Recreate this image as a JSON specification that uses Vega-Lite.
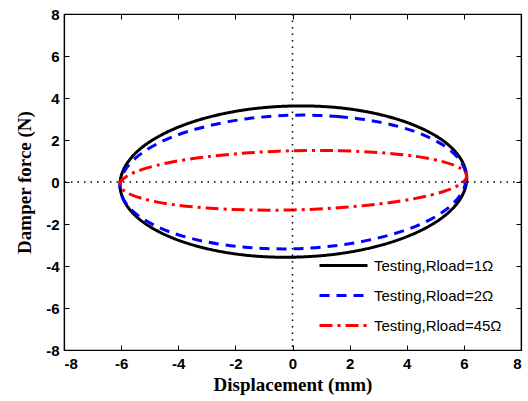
{
  "$schema": "https://vega.github.io/schema/vega-lite/v6.json",
  "width": 457,
  "height": 336,
  "autosize": {"type": "none"},
  "padding": {"left": 64, "top": 14, "right": 7, "bottom": 51},
  "background": "white",
  "config": {
    "view": {"stroke": "black", "strokeWidth": 1.2},
    "axis": {
      "domainColor": "black", "domainWidth": 1.2, "tickColor": "black", "tickSize": -5, "tickWidth": 1,
      "labelFont": "Liberation Sans", "labelFontWeight": "bold", "labelFontSize": 15, "labelColor": "black",
      "titleFont": "Liberation Serif", "titleFontWeight": "bold", "titleFontSize": 19, "titleColor": "black",
      "grid": false
    },
    "legend": {
      "labelFont": "Liberation Sans", "labelFontSize": 15, "labelColor": "black",
      "symbolType": "M-1.2,0H1.2", "symbolSize": 1600, "symbolStrokeWidth": 3, "labelOffset": 9,
      "rowPadding": 0
    }
  },
  "data": {"values": [
    {"s": "Testing,Rload=1Ω", "i": 0, "x": 0.03, "y": 3.62},
    {"s": "Testing,Rload=1Ω", "i": 1, "x": 1.60, "y": 3.54},
    {"s": "Testing,Rload=1Ω", "i": 2, "x": 3.07, "y": 3.21},
    {"s": "Testing,Rload=1Ω", "i": 3, "x": 4.32, "y": 2.67},
    {"s": "Testing,Rload=1Ω", "i": 4, "x": 5.29, "y": 1.95},
    {"s": "Testing,Rload=1Ω", "i": 5, "x": 5.89, "y": 1.10},
    {"s": "Testing,Rload=1Ω", "i": 6, "x": 6.10, "y": 0.17},
    {"s": "Testing,Rload=1Ω", "i": 7, "x": 5.89, "y": -0.77},
    {"s": "Testing,Rload=1Ω", "i": 8, "x": 5.29, "y": -1.65},
    {"s": "Testing,Rload=1Ω", "i": 9, "x": 4.32, "y": -2.42},
    {"s": "Testing,Rload=1Ω", "i": 10, "x": 3.07, "y": -3.02},
    {"s": "Testing,Rload=1Ω", "i": 11, "x": 1.60, "y": -3.42},
    {"s": "Testing,Rload=1Ω", "i": 12, "x": 0.03, "y": -3.58},
    {"s": "Testing,Rload=1Ω", "i": 13, "x": -1.54, "y": -3.50},
    {"s": "Testing,Rload=1Ω", "i": 14, "x": -3.01, "y": -3.17},
    {"s": "Testing,Rload=1Ω", "i": 15, "x": -4.26, "y": -2.63},
    {"s": "Testing,Rload=1Ω", "i": 16, "x": -5.23, "y": -1.91},
    {"s": "Testing,Rload=1Ω", "i": 17, "x": -5.83, "y": -1.06},
    {"s": "Testing,Rload=1Ω", "i": 18, "x": -6.04, "y": -0.13},
    {"s": "Testing,Rload=1Ω", "i": 19, "x": -5.83, "y": 0.81},
    {"s": "Testing,Rload=1Ω", "i": 20, "x": -5.23, "y": 1.69},
    {"s": "Testing,Rload=1Ω", "i": 21, "x": -4.26, "y": 2.46},
    {"s": "Testing,Rload=1Ω", "i": 22, "x": -3.01, "y": 3.06},
    {"s": "Testing,Rload=1Ω", "i": 23, "x": -1.54, "y": 3.46},
    {"s": "Testing,Rload=2Ω", "i": 0, "x": 0.02, "y": 3.18},
    {"s": "Testing,Rload=2Ω", "i": 1, "x": 1.59, "y": 3.12},
    {"s": "Testing,Rload=2Ω", "i": 2, "x": 3.05, "y": 2.85},
    {"s": "Testing,Rload=2Ω", "i": 3, "x": 4.31, "y": 2.39},
    {"s": "Testing,Rload=2Ω", "i": 4, "x": 5.27, "y": 1.76},
    {"s": "Testing,Rload=2Ω", "i": 5, "x": 5.87, "y": 1.02},
    {"s": "Testing,Rload=2Ω", "i": 6, "x": 6.08, "y": 0.20},
    {"s": "Testing,Rload=2Ω", "i": 7, "x": 5.87, "y": -0.63},
    {"s": "Testing,Rload=2Ω", "i": 8, "x": 5.27, "y": -1.42},
    {"s": "Testing,Rload=2Ω", "i": 9, "x": 4.31, "y": -2.11},
    {"s": "Testing,Rload=2Ω", "i": 10, "x": 3.05, "y": -2.65},
    {"s": "Testing,Rload=2Ω", "i": 11, "x": 1.59, "y": -3.02},
    {"s": "Testing,Rload=2Ω", "i": 12, "x": 0.02, "y": -3.18},
    {"s": "Testing,Rload=2Ω", "i": 13, "x": -1.55, "y": -3.12},
    {"s": "Testing,Rload=2Ω", "i": 14, "x": -3.01, "y": -2.85},
    {"s": "Testing,Rload=2Ω", "i": 15, "x": -4.27, "y": -2.39},
    {"s": "Testing,Rload=2Ω", "i": 16, "x": -5.23, "y": -1.76},
    {"s": "Testing,Rload=2Ω", "i": 17, "x": -5.83, "y": -1.02},
    {"s": "Testing,Rload=2Ω", "i": 18, "x": -6.04, "y": -0.20},
    {"s": "Testing,Rload=2Ω", "i": 19, "x": -5.83, "y": 0.63},
    {"s": "Testing,Rload=2Ω", "i": 20, "x": -5.23, "y": 1.42},
    {"s": "Testing,Rload=2Ω", "i": 21, "x": -4.27, "y": 2.11},
    {"s": "Testing,Rload=2Ω", "i": 22, "x": -3.01, "y": 2.65},
    {"s": "Testing,Rload=2Ω", "i": 23, "x": -1.55, "y": 3.02},
    {"s": "Testing,Rload=45Ω", "i": 0, "x": 0.03, "y": 1.49},
    {"s": "Testing,Rload=45Ω", "i": 1, "x": 1.60, "y": 1.49},
    {"s": "Testing,Rload=45Ω", "i": 2, "x": 3.07, "y": 1.40},
    {"s": "Testing,Rload=45Ω", "i": 3, "x": 4.32, "y": 1.22},
    {"s": "Testing,Rload=45Ω", "i": 4, "x": 5.29, "y": 0.96},
    {"s": "Testing,Rload=45Ω", "i": 5, "x": 5.89, "y": 0.64},
    {"s": "Testing,Rload=45Ω", "i": 6, "x": 6.10, "y": 0.28},
    {"s": "Testing,Rload=45Ω", "i": 7, "x": 5.89, "y": -0.09},
    {"s": "Testing,Rload=45Ω", "i": 8, "x": 5.29, "y": -0.45},
    {"s": "Testing,Rload=45Ω", "i": 9, "x": 4.32, "y": -0.78},
    {"s": "Testing,Rload=45Ω", "i": 10, "x": 3.07, "y": -1.04},
    {"s": "Testing,Rload=45Ω", "i": 11, "x": 1.60, "y": -1.23},
    {"s": "Testing,Rload=45Ω", "i": 12, "x": 0.03, "y": -1.33},
    {"s": "Testing,Rload=45Ω", "i": 13, "x": -1.54, "y": -1.33},
    {"s": "Testing,Rload=45Ω", "i": 14, "x": -3.01, "y": -1.24},
    {"s": "Testing,Rload=45Ω", "i": 15, "x": -4.26, "y": -1.06},
    {"s": "Testing,Rload=45Ω", "i": 16, "x": -5.23, "y": -0.80},
    {"s": "Testing,Rload=45Ω", "i": 17, "x": -5.83, "y": -0.48},
    {"s": "Testing,Rload=45Ω", "i": 18, "x": -6.04, "y": -0.12},
    {"s": "Testing,Rload=45Ω", "i": 19, "x": -5.83, "y": 0.25},
    {"s": "Testing,Rload=45Ω", "i": 20, "x": -5.23, "y": 0.61},
    {"s": "Testing,Rload=45Ω", "i": 21, "x": -4.26, "y": 0.94},
    {"s": "Testing,Rload=45Ω", "i": 22, "x": -3.01, "y": 1.20},
    {"s": "Testing,Rload=45Ω", "i": 23, "x": -1.54, "y": 1.39}
  ]},
  "layer": [
    {
      "mark": {"type": "line", "interpolate": "cardinal-closed", "strokeWidth": 3},
      "encoding": {
        "x": {"field": "x", "type": "quantitative",
              "scale": {"domain": [-8, 8], "nice": false, "zero": false},
              "axis": {"values": [-8, -6, -4, -2, 0, 2, 4, 6, 8], "title": "Displacement (mm)", "labelPadding": 11, "titlePadding": 4,
                       "labelExpr": "datum.value < 0 ? '-' + abs(datum.value) + ' ' : datum.label"}},
        "y": {"field": "y", "type": "quantitative",
              "scale": {"domain": [-8, 8], "nice": false, "zero": false},
              "axis": {"values": [-8, -6, -4, -2, 0, 2, 4, 6, 8], "title": "Damper force (N)", "labelPadding": 10, "titlePadding": 11,
                       "labelExpr": "datum.value < 0 ? '-' + abs(datum.value) + ' ' : datum.label"}},
        "order": {"field": "i", "type": "quantitative"},
        "color": {"field": "s", "type": "nominal",
                  "scale": {"domain": ["Testing,Rload=1Ω", "Testing,Rload=2Ω", "Testing,Rload=45Ω"], "range": ["#000000", "#0000ff", "#ff0000"]},
                  "legend": {"title": null, "orient": "none", "legendX": 258, "legendY": 230}},
        "strokeDash": {"field": "s", "type": "nominal",
                  "scale": {"domain": ["Testing,Rload=1Ω", "Testing,Rload=2Ω", "Testing,Rload=45Ω"], "range": [[1, 0], [10, 7], [13, 5, 3, 5]]},
                  "legend": {"title": null, "orient": "none", "legendX": 258, "legendY": 230}}
      }
    },
    {
      "data": {"values": [{"v": 0}]},
      "mark": {"type": "rule", "color": "black", "strokeWidth": 1.5, "strokeDash": [1.5, 5]},
      "encoding": {
        "x": {"field": "v", "type": "quantitative",
              "scale": {"domain": [-8, 8], "nice": false, "zero": false},
              "axis": {"orient": "top", "values": [-8, -6, -4, -2, 0, 2, 4, 6, 8], "labels": false, "title": null}}
      }
    },
    {
      "data": {"values": [{"v": 0}]},
      "mark": {"type": "rule", "color": "black", "strokeWidth": 1.5, "strokeDash": [1.5, 5]},
      "encoding": {
        "y": {"field": "v", "type": "quantitative",
              "scale": {"domain": [-8, 8], "nice": false, "zero": false},
              "axis": {"orient": "right", "values": [-8, -6, -4, -2, 0, 2, 4, 6, 8], "labels": false, "title": null}}
      }
    }
  ],
  "resolve": {"axis": {"x": "independent", "y": "independent"}}
}
